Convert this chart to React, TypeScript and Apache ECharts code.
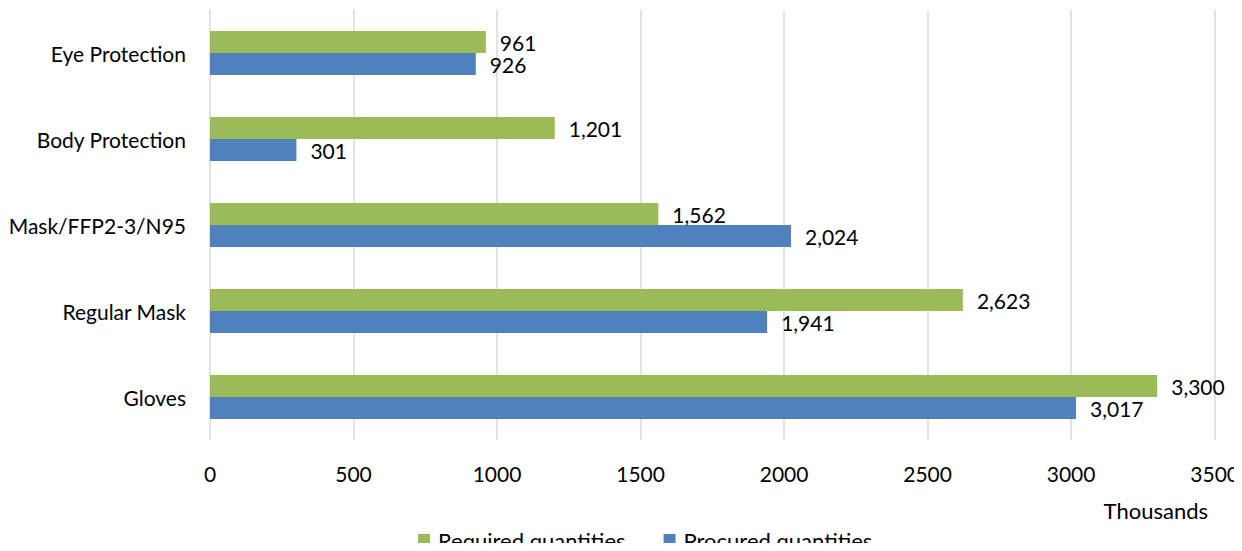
import React, { useEffect, useRef } from "react";
import * as echarts from "echarts";

const categories = ["Gloves", "Regular Mask", "Mask/FFP2-3/N95", "Body Protection", "Eye Protection"];
const required = [3300, 2623, 1562, 1201, 961];
const procured = [3017, 1941, 2024, 301, 926];
const xTicks = { min: 0, max: 3500, interval: 500 };

const FONT = "Lato, 'Open Sans', sans-serif";
const FS = 21;

export default function App() {
  const ref = useRef<HTMLDivElement>(null);
  useEffect(() => {
    if (!ref.current) return;
    const chart = echarts.init(ref.current, undefined, { renderer: "svg" });
    const fmt = (p: any) => Number(p.value).toLocaleString("en-US");
    chart.setOption({
      animation: false,
      textStyle: { fontFamily: FONT },
      grid: { left: 210, right: 25, top: 10, bottom: 111 },
      legend: {
        data: ["Required quantities", "Procured quantities"],
        top: 524,
        left: 413,
        itemWidth: 12,
        itemHeight: 12,
        itemGap: 38,
        icon: "rect",
        textStyle: { fontFamily: FONT, fontSize: FS + 1, color: "#000", padding: [0, 0, 0, 3] },
      },
      xAxis: {
        type: "value",
        min: xTicks.min,
        max: xTicks.max,
        interval: xTicks.interval,
        axisLine: { show: false },
        axisTick: { show: false },
        axisLabel: { fontSize: FS, color: "#000", margin: 23, fontFamily: FONT, formatter: (v: number) => String(v) },
        splitLine: { lineStyle: { color: "#d9d9d9", width: 1.5 } },
      },
      yAxis: {
        type: "category",
        data: categories,
        axisLine: { show: false },
        axisTick: { show: false },
        axisLabel: { fontSize: FS, color: "#000", margin: 24, fontFamily: FONT },
      },
      graphic: [
        {
          type: "text",
          right: 34,
          top: 499,
          style: { text: "Thousands", fontSize: FS + 1, fill: "#000", fontFamily: FONT },
        },
      ],
      series: [
        {
          name: "Required quantities",
          type: "bar",
          data: required,
          barWidth: 22,
          barGap: "0%",
          itemStyle: { color: "#9BBB59" },
          label: { show: true, position: "right", distance: 14, formatter: fmt, fontSize: FS, color: "#000", fontFamily: FONT },
        },
        {
          name: "Procured quantities",
          type: "bar",
          data: procured,
          barWidth: 22,
          barGap: "0%",
          itemStyle: { color: "#4F81BD" },
          label: { show: true, position: "right", distance: 14, formatter: fmt, fontSize: FS, color: "#000", fontFamily: FONT },
        },
      ],
    });
    return () => chart.dispose();
  }, []);
  return <div ref={ref} style={{ width: 1242, height: 551, margin: -8 }} />;
}
